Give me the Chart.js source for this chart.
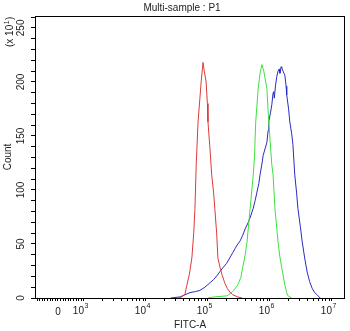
<!DOCTYPE html>
<html>
<head>
<meta charset="utf-8">
<script src="https://cdn.jsdelivr.net/npm/chart.js@4/dist/chart.umd.min.js"></script>
<style>
  html, body { margin: 0; padding: 0; background: #fff; }
  canvas { display: block; }
</style>
</head>
<body>
<canvas id="histo" width="350" height="331"></canvas>
<script>
// FITC-A positions are in decades (5 = 10^5), counts are shown in units of 10
const redPos = [4.50, 4.58, 4.63, 4.66, 4.70, 4.74, 4.77, 4.79, 4.81, 4.84, 4.87, 4.89, 4.91, 4.92, 4.94, 4.97, 4.99, 5.00, 5.03, 5.06, 5.09, 5.11, 5.14, 5.16, 5.20, 5.23, 5.27, 5.31, 5.36, 5.40, 5.48, 5.55];
const redCount = [0, 1, 4, 12, 22, 37, 60, 83, 123, 163, 185, 200, 212, 218, 210, 200, 180, 163, 140, 114, 98, 83, 60, 37, 27, 21, 14, 9, 5, 3, 1, 0];

const greenPos = [5.00, 5.10, 5.31, 5.40, 5.48, 5.53, 5.56, 5.60, 5.63, 5.68, 5.73, 5.75, 5.77, 5.81, 5.84, 5.87, 5.90, 5.95, 5.98, 6.03, 6.05, 6.08, 6.13, 6.16, 6.19, 6.24, 6.27, 6.29, 6.35];
const greenCount = [0, 1, 2, 6, 12, 19, 28, 40, 52, 83, 114, 130, 163, 194, 208, 216, 210, 194, 163, 123, 114, 83, 52, 38, 28, 12, 5, 2, 0];

const bluePos = [4.40, 4.55, 4.63, 4.71, 4.80, 4.87, 4.95, 5.03, 5.09, 5.15, 5.20, 5.24, 5.30, 5.35, 5.40, 5.44, 5.47, 5.52, 5.56, 5.60, 5.65, 5.69, 5.73, 5.76, 5.79, 5.82, 5.84, 5.87, 5.89, 5.92, 5.95, 5.97, 5.98, 6.01, 6.03, 6.05, 6.06, 6.07, 6.09, 6.11, 6.13, 6.15, 6.16, 6.18, 6.19, 6.21, 6.24, 6.26, 6.27, 6.30, 6.32, 6.35, 6.37, 6.40, 6.43, 6.45, 6.49, 6.52, 6.56, 6.60, 6.64, 6.68, 6.72, 6.76, 6.81];
const blueCount = [0, 1, 3, 5, 6, 7, 10, 14, 17, 21, 25, 28, 32, 37, 42, 46, 49, 53, 58, 64, 70, 76, 83, 90, 98, 106, 114, 124, 132, 138, 144, 155, 163, 172, 179, 190, 191, 185, 197, 205, 210, 212, 208, 214, 213, 210, 206, 196, 188, 175, 163, 152, 142, 114, 97, 83, 66, 52, 37, 24, 15, 9, 5, 3, 0];

// axis ticks
const zeroPos = 2.58;
const xMajor = [zeroPos, 3, 4, 5, 6, 7];
const xMajorBase = ['0', '10', '10', '10', '10', '10'];
const xMajorExp = ['', '3', '4', '5', '6', '7'];
const yTicks = [0, 10, 20, 30, 40, 50, 60, 70, 80, 90, 100, 110, 120, 130, 140, 150, 160, 170, 180, 190, 200, 210, 220, 230, 240, 250, 260];
const yLabelEvery = 50;

const xMin = 2.21, xMax = 7.21;

// minor ticks: linear steps around zero, log steps inside each decade
const xMinor = [];
for (let i = -8; i <= 9; i++) {
  if (i !== 0) xMinor.push(+(zeroPos + i * 0.042).toFixed(4));
}
for (let d = 3; d < 7; d++) {
  for (let k = 2; k <= 9; k++) xMinor.push(d + Math.log10(k));
}
const xAllTicks = xMajor.concat(xMinor).sort((a, b) => a - b);

function toPoints(xs, ys) {
  return xs.map((x, i) => ({ x: x, y: ys[i] }));
}

const FONT = '"Liberation Sans", Arial, sans-serif';
Chart.defaults.font.family = FONT;
Chart.defaults.font.size = 10;
Chart.defaults.color = '#222';

const decorations = {
  id: 'decorations',
  afterDatasetsDraw(chart) {
    const { ctx, chartArea: a } = chart;
    ctx.save();
    ctx.strokeStyle = '#000';
    ctx.lineWidth = 1;
    ctx.strokeRect(a.left + 0.5, a.top + 0.5, a.right - a.left - 1, a.bottom - a.top);
    ctx.restore();
  },
  afterDraw(chart) {
    const { ctx } = chart;
    const xs = chart.scales.x;
    ctx.save();
    ctx.fillStyle = '#222';
    ctx.font = '10px ' + FONT;
    ctx.textAlign = 'center';
    ctx.textBaseline = 'middle';
    ctx.fillText('Multi-sample : P1', 182, 8.5);

    // decade labels with raised exponents
    ctx.textBaseline = 'alphabetic';
    xMajor.forEach((v, i) => {
      const px = xs.getPixelForValue(v);
      ctx.font = '10px ' + FONT;
      if (!xMajorExp[i]) {
        ctx.textAlign = 'center';
        ctx.fillText(xMajorBase[i], px, 315);
        return;
      }
      ctx.textAlign = 'right';
      ctx.fillText(xMajorBase[i], px, 314);
      ctx.font = '7px ' + FONT;
      ctx.textAlign = 'left';
      ctx.fillText(xMajorExp[i], px + 0.5, 308);
    });

    // count multiplier, rotated like the axis title
    ctx.translate(13, 47);
    ctx.rotate(-Math.PI / 2);
    ctx.textAlign = 'left';
    ctx.font = '10px ' + FONT;
    const head = '(x 10';
    ctx.fillText(head, 0, 0);
    let w = ctx.measureText(head).width;
    ctx.font = '7px ' + FONT;
    ctx.fillText('1', w + 0.5, -4.5);
    w += ctx.measureText('1').width + 1;
    ctx.font = '10px ' + FONT;
    ctx.fillText(')', w, 0);
    ctx.restore();
  }
};

new Chart(document.getElementById('histo'), {
  type: 'line',
  data: {
    datasets: [
      { label: 'red', data: toPoints(redPos, redCount), borderColor: '#dc3a3a' },
      { label: 'green', data: toPoints(greenPos, greenCount), borderColor: '#3ee03e' },
      { label: 'blue', data: toPoints(bluePos, blueCount), borderColor: '#2a2ac4' }
    ]
  },
  options: {
    responsive: false,
    animation: false,
    devicePixelRatio: 1,
    layout: { padding: { top: 16, right: 5, left: 0, bottom: 0 } },
    elements: {
      point: { radius: 0 },
      line: { borderWidth: 1, tension: 0, fill: false }
    },
    plugins: {
      legend: { display: false },
      tooltip: { enabled: false }
    },
    scales: {
      x: {
        type: 'linear',
        min: xMin,
        max: xMax,
        afterBuildTicks: s => { s.ticks = xAllTicks.map(v => ({ value: v })); },
        afterFit: s => { s.height = 33; },
        ticks: {
          autoSkip: false,
          maxRotation: 0,
          padding: 4,
          callback: () => ''
        },
        grid: { drawOnChartArea: false, tickLength: 3, tickColor: '#000' },
        border: { display: false },
        title: { display: true, text: 'FITC-A', color: '#222', padding: { top: 0, bottom: 0 } }
      },
      y: {
        min: 0,
        max: 261,
        afterBuildTicks: s => { s.ticks = yTicks.map(v => ({ value: v })); },
        afterFit: s => { s.width = 35; },
        ticks: {
          autoSkip: false,
          minRotation: 90,
          maxRotation: 90,
          crossAlign: 'center',
          padding: 1,
          color: '#222',
          callback: v => (v % yLabelEvery === 0 ? String(v) : '')
        },
        grid: { drawOnChartArea: false, tickLength: 4, tickColor: '#000' },
        border: { display: false },
        title: { display: true, text: 'Count', color: '#222', padding: { top: 2, bottom: 0 } }
      }
    }
  },
  plugins: [decorations]
});
</script>
</body>
</html>
